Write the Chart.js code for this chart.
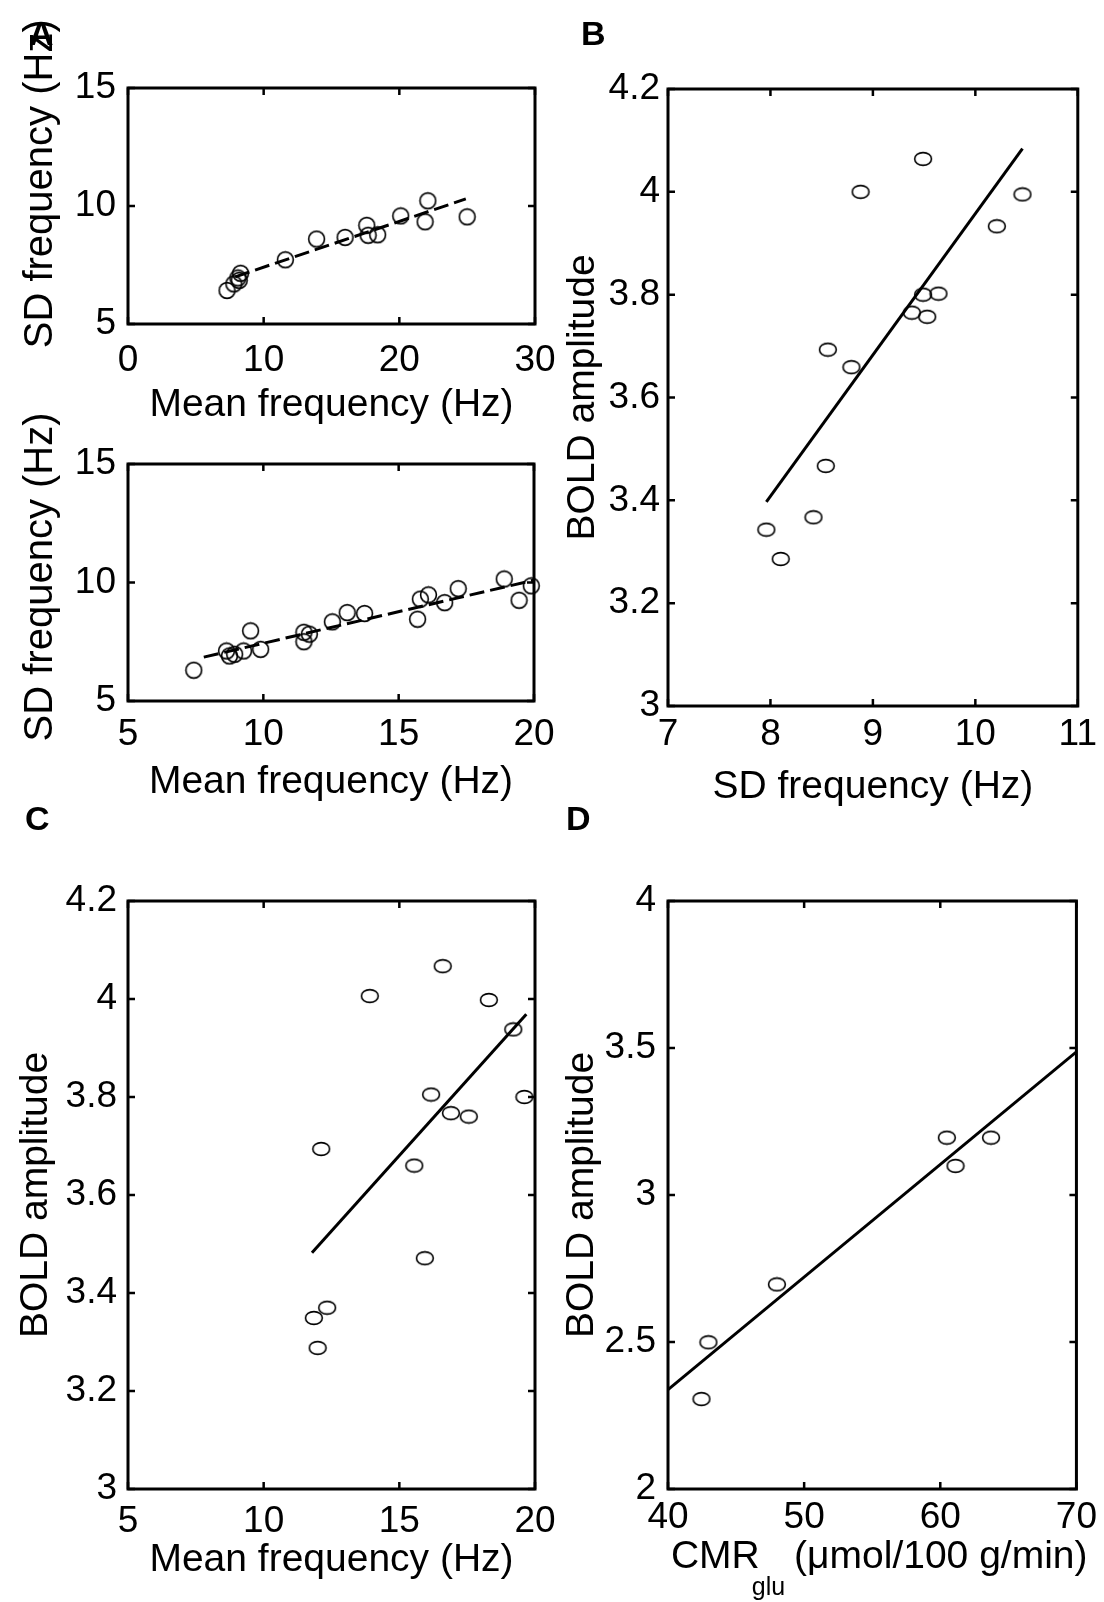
<!DOCTYPE html>
<html>
<head>
<meta charset="utf-8">
<script src="https://cdn.jsdelivr.net/npm/chart.js@4.4.0/dist/chart.umd.min.js"></script>
<style>
  html, body { margin: 0; padding: 0; background: #fff; }
  #page { position: relative; width: 1104px; height: 1602px; overflow: hidden; }
  #page canvas { position: absolute; left: 0; top: 0; }
  .tag { position: absolute; font: bold 34px "Liberation Sans", Arial, sans-serif; line-height: 34px; color: #000; }
</style>
</head>
<body>
<div id="page">
  <canvas id="a1" width="1104" height="1602"></canvas>
  <canvas id="a2" width="1104" height="1602"></canvas>
  <canvas id="b" width="1104" height="1602"></canvas>
  <canvas id="c" width="1104" height="1602"></canvas>
  <canvas id="d" width="1104" height="1602"></canvas>
  <div class="tag" style="left:29px;top:16px">A</div>
  <div class="tag" style="left:581px;top:16px">B</div>
  <div class="tag" style="left:25px;top:801px">C</div>
  <div class="tag" style="left:566px;top:801px">D</div>
</div>
<script>
// Panel A, top: mean vs SD firing frequency
const meanA1 = [7.3, 7.8, 8.1, 8.3, 8.2, 11.6, 13.9, 16.0, 17.6, 17.7, 18.4, 20.1, 21.9, 22.1, 25.0];
const sdA1 = [6.42, 6.7, 6.95, 7.15, 6.85, 7.72, 8.6, 8.67, 9.18, 8.76, 8.78, 9.58, 9.33, 10.22, 9.54];
const fitA1X = [7.9, 24.9];
const fitA1Y = [7.0, 10.3];

// Panel A, bottom
const meanA2 = [7.43, 8.64, 8.75, 8.94, 9.27, 9.53, 9.9, 11.5, 11.5, 11.7, 12.55, 13.1, 13.74, 15.7, 15.8, 16.1, 16.7, 17.2, 18.9, 19.45, 19.9];
const sdA2 = [6.3, 7.11, 6.9, 6.97, 7.11, 7.96, 7.18, 7.9, 7.5, 7.82, 8.34, 8.73, 8.69, 8.45, 9.3, 9.48, 9.15, 9.74, 10.15, 9.25, 9.86];
const fitA2X = [7.8, 20];
const fitA2Y = [6.85, 10.1];

// Panel B: SD frequency vs BOLD
const sdB = [9.49, 8.88, 10.46, 10.21, 9.49, 9.64, 9.38, 9.53, 8.56, 8.79, 8.54, 8.42, 7.96, 8.10];
const boldB = [4.064, 4.0, 3.995, 3.933, 3.8, 3.802, 3.765, 3.757, 3.693, 3.659, 3.467, 3.367, 3.343, 3.286];
const fitBX = [7.96, 10.46];
const fitBY = [3.397, 4.084];

// Panel C: mean frequency vs BOLD
const meanC = [16.6, 13.91, 18.3, 19.2, 16.17, 16.9, 17.56, 19.61, 12.12, 15.55, 15.94, 12.34, 11.85, 11.99];
const boldC = [4.067, 4.006, 3.998, 3.938, 3.805, 3.767, 3.76, 3.80, 3.694, 3.66, 3.471, 3.37, 3.349, 3.288];
const fitCX = [11.78, 19.68];
const fitCY = [3.482, 3.969];

// Panel D: CMRglu vs BOLD
const cmrD = [60.48, 61.12, 63.73, 48.0, 42.97, 42.46];
const boldD = [3.195, 3.099, 3.195, 2.696, 2.499, 2.306];
const fitDX = [40, 70];
const fitDY = [2.338, 3.487];

const FONT = '"Liberation Sans", Arial, Helvetica, sans-serif';
const PAGE_W = 1104, PAGE_H = 1602;
const TICK_SIZE = 37;

function marker(w, h, lw) {
  const c = document.createElement('canvas');
  c.width = w;
  c.height = h;
  const g = c.getContext('2d');
  g.strokeStyle = '#000';
  g.lineWidth = lw;
  g.beginPath();
  g.ellipse(w / 2, h / 2, w / 2 - lw, h / 2 - lw, 0, 0, Math.PI * 2);
  g.stroke();
  return c;
}

const roundMark = marker(19, 19, 1.6);
const wideMark = marker(20, 16, 1.6);

const pairs = (xs, ys) => xs.map((x, i) => ({ x, y: ys[i] }));
const plainNum = v => String(Number(v.toFixed(2)));

// matlab style box with inward ticks on all four sides
const framePlugin = {
  id: 'frame',
  afterDraw(chart) {
    const { ctx, chartArea: a, scales: { x, y } } = chart;
    const t = 7;
    ctx.save();
    ctx.strokeStyle = '#000';
    ctx.lineWidth = 2.5;
    ctx.beginPath();
    x.ticks.forEach(tk => {
      const px = x.getPixelForValue(tk.value);
      ctx.moveTo(px, a.bottom); ctx.lineTo(px, a.bottom - t);
      ctx.moveTo(px, a.top); ctx.lineTo(px, a.top + t);
    });
    y.ticks.forEach(tk => {
      const py = y.getPixelForValue(tk.value);
      ctx.moveTo(a.left, py); ctx.lineTo(a.left + t, py);
      ctx.moveTo(a.right, py); ctx.lineTo(a.right - t, py);
    });
    ctx.stroke();
    ctx.lineWidth = 3;
    ctx.strokeRect(a.left, a.top, a.right - a.left, a.bottom - a.top);
    ctx.restore();
  }
};

// x title with a subscript, which the axis title can't do
const subTitlePlugin = {
  id: 'subTitle',
  afterDraw(chart, args, opts) {
    if (!opts.main) return;
    const { ctx, chartArea: a } = chart;
    const big = `${opts.size}px ${FONT}`;
    const small = `${opts.subSize}px ${FONT}`;
    ctx.save();
    ctx.fillStyle = '#000';
    ctx.textBaseline = 'alphabetic';
    ctx.font = big;
    const w1 = ctx.measureText(opts.main).width;
    const w3 = ctx.measureText(opts.rest).width;
    ctx.font = small;
    const w2 = ctx.measureText(opts.sub).width;
    const total = w1 - opts.tuck + w2 + opts.gap + w3;
    let x = (a.left + a.right) / 2 - total / 2 + opts.shift;
    const base = a.bottom + opts.offset;
    ctx.font = big;
    ctx.fillText(opts.main, x, base);
    x += w1 - opts.tuck;
    ctx.font = small;
    ctx.fillText(opts.sub, x, base + opts.subDrop);
    x += w2 + opts.gap;
    ctx.font = big;
    ctx.fillText(opts.rest, x, base);
    ctx.restore();
  }
};

function createPanel(id, p) {
  const yLine = p.yTitleSize * 1.2;
  const xLine = p.xTitleSize * 1.2;
  const padLeft = p.yTitleX - yLine / 2;
  const xBottom = p.xTitle ? p.xTitleY + xLine / 2 : p.area.bottom + 60;
  return new Chart(document.getElementById(id), {
    type: 'scatter',
    data: {
      datasets: [
        {
          type: 'line',
          data: pairs(p.fitX, p.fitY),
          borderColor: '#000',
          borderWidth: 3,
          borderDash: p.dash || [],
          pointRadius: 0,
          fill: false,
        },
        {
          data: pairs(p.xs, p.ys),
          pointStyle: p.mark,
          pointRadius: 8,
          borderColor: '#000',
          backgroundColor: 'rgba(0,0,0,0)',
          clip: false,
        }
      ],
    },
    options: {
      responsive: false,
      animation: false,
      devicePixelRatio: 1,
      events: [],
      layout: {
        padding: {
          left: padLeft,
          top: p.area.top,
          right: PAGE_W - p.area.right,
          bottom: PAGE_H - xBottom,
        }
      },
      plugins: {
        legend: { display: false },
        tooltip: { enabled: false },
        subTitle: p.subTitle || {},
      },
      scales: {
        x: {
          type: 'linear',
          min: p.xMin,
          max: p.xMax,
          grid: { display: false, drawTicks: false, tickLength: 0 },
          border: { display: false },
          ticks: {
            stepSize: p.xStep,
            padding: p.xPad,
            color: '#000',
            maxRotation: 0,
            autoSkip: false,
            font: { family: FONT, size: TICK_SIZE },
            callback: plainNum,
          },
          title: {
            display: !!p.xTitle,
            text: p.xTitle || '',
            color: '#000',
            padding: 0,
            font: { family: FONT, size: p.xTitleSize, lineHeight: 1.2 },
          },
          afterFit: s => { s.height = xBottom - p.area.bottom; },
        },
        y: {
          type: 'linear',
          min: p.yMin,
          max: p.yMax,
          grid: { display: false, drawTicks: false, tickLength: 0 },
          border: { display: false },
          ticks: {
            stepSize: p.yStep,
            padding: p.yPad,
            color: '#000',
            autoSkip: false,
            font: { family: FONT, size: TICK_SIZE },
            callback: plainNum,
          },
          title: {
            display: true,
            text: p.yTitle,
            color: '#000',
            padding: 0,
            font: { family: FONT, size: p.yTitleSize, lineHeight: 1.2 },
          },
          afterFit: s => { s.width = p.area.left - padLeft; },
        },
      },
    },
    plugins: [framePlugin, subTitlePlugin],
  });
}

createPanel('a1', {
  area: { left: 128, top: 88, right: 535, bottom: 324 },
  xs: meanA1, ys: sdA1, fitX: fitA1X, fitY: fitA1Y, dash: [15, 6], mark: roundMark,
  xMin: 0, xMax: 30, xStep: 10, yMin: 5, yMax: 15, yStep: 5, yPad: 12, xPad: 15,
  xTitle: 'Mean frequency (Hz)', xTitleSize: 39, xTitleY: 405,
  // leading spaces lift the rotated title like in the original
  yTitle: '    SD frequency (Hz)', yTitleSize: 40, yTitleX: 41,
});

createPanel('a2', {
  area: { left: 128, top: 464, right: 534, bottom: 701 },
  xs: meanA2, ys: sdA2, fitX: fitA2X, fitY: fitA2Y, dash: [15, 6], mark: roundMark,
  xMin: 5, xMax: 20, xStep: 5, yMin: 5, yMax: 15, yStep: 5, yPad: 12, xPad: 12,
  xTitle: 'Mean frequency (Hz)', xTitleSize: 39, xTitleY: 782,
  yTitle: ' SD frequency (Hz)', yTitleSize: 40, yTitleX: 41,
});

createPanel('b', {
  area: { left: 668, top: 89, right: 1080, bottom: 706 },
  xs: sdB, ys: boldB, fitX: fitBX, fitY: fitBY, mark: wideMark,
  xMin: 7, xMax: 11, xStep: 1, yMin: 3, yMax: 4.2, yStep: 0.2, yPad: 8, xPad: 7,
  xTitle: 'SD frequency (Hz)', xTitleSize: 39, xTitleY: 787,
  yTitle: 'BOLD amplitude', yTitleSize: 39, yTitleX: 583,
});

createPanel('c', {
  area: { left: 128, top: 901, right: 535, bottom: 1489 },
  xs: meanC, ys: boldC, fitX: fitCX, fitY: fitCY, mark: wideMark,
  xMin: 5, xMax: 20, xStep: 5, yMin: 3, yMax: 4.2, yStep: 0.2, yPad: 11, xPad: 11,
  xTitle: 'Mean frequency (Hz)', xTitleSize: 39, xTitleY: 1560,
  yTitle: 'BOLD amplitude', yTitleSize: 39, yTitleX: 36,
});

createPanel('d', {
  area: { left: 668, top: 901, right: 1080, bottom: 1489 },
  xs: cmrD, ys: boldD, fitX: fitDX, fitY: fitDY, mark: wideMark,
  xMin: 40, xMax: 70, xStep: 10, yMin: 2, yMax: 4, yStep: 0.5, yPad: 12, xPad: 7,
  xTitleSize: 39,
  subTitle: { main: 'CMR', sub: 'glu', rest: '(\u03bcmol/100 g/min)', size: 39, subSize: 25, tuck: 8, gap: 9, shift: 7, offset: 79, subDrop: 27 },
  yTitle: 'BOLD amplitude', yTitleSize: 39, yTitleX: 582,
});
</script>
</body>
</html>
